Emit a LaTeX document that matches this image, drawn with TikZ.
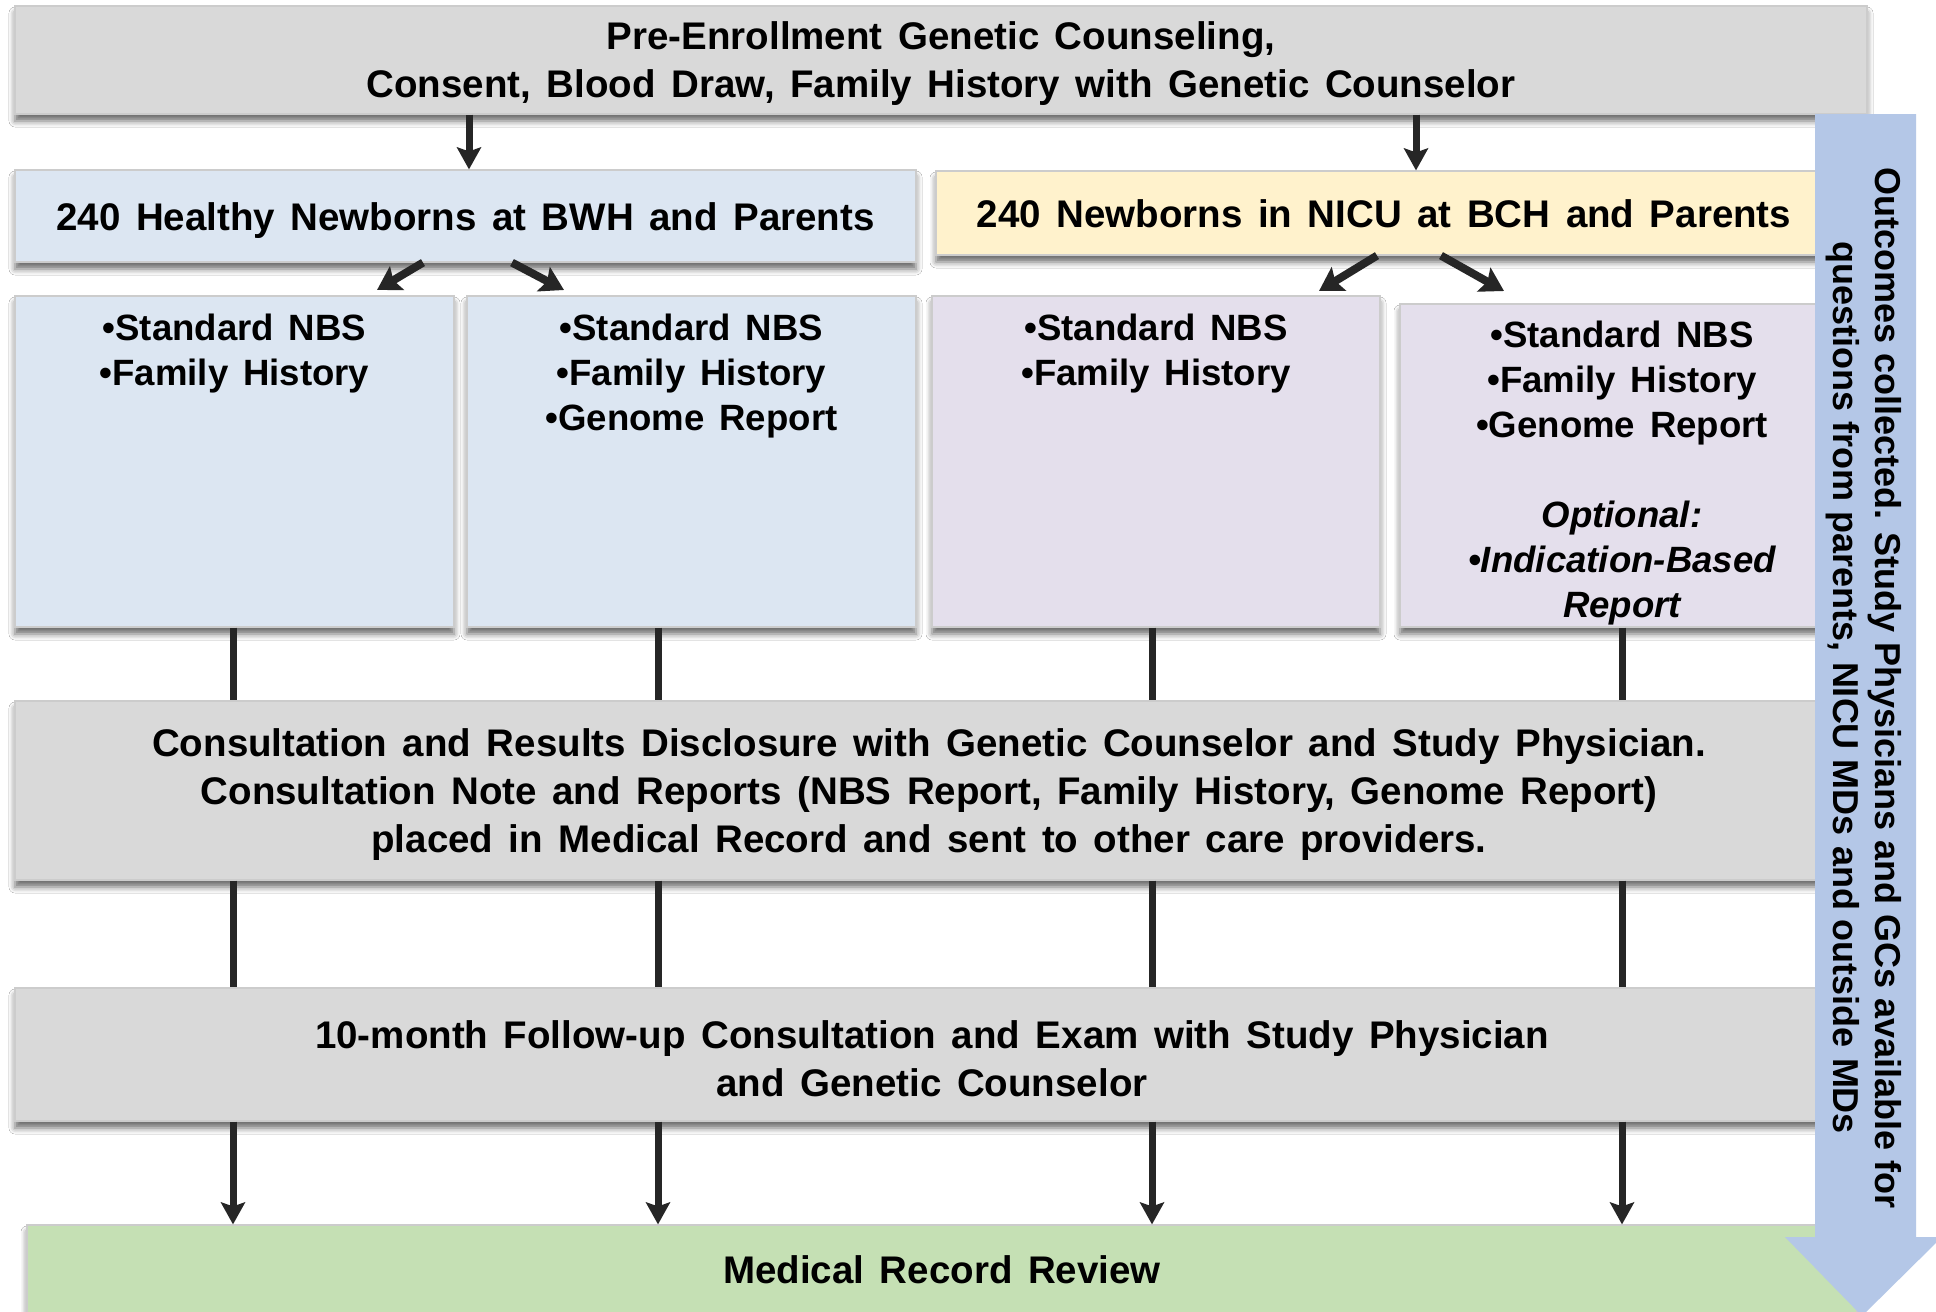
\documentclass[tikz,border=0pt]{standalone}
\usepackage{fontspec}
\setmainfont{Liberation Sans}[WordSpace=1.45]
\newfontfamily\arrowfont{Liberation Sans}
\usetikzlibrary{arrows.meta,shadows.blur}

\definecolor{boxgray}{HTML}{D9D9D9}
\definecolor{paleblue}{HTML}{DCE6F2}
\definecolor{paleyellow}{HTML}{FFF2CC}
\definecolor{palelilac}{HTML}{E4DFEC}
\definecolor{palegreen}{HTML}{C5E0B4}
\definecolor{sideblue}{HTML}{B4C7E7}
\definecolor{ink}{HTML}{262626}

\begin{document}
\begin{tikzpicture}[x=1pt,y=-1pt,
  box/.style={draw=black!20, line width=1.2pt, inner sep=0pt,
    blur shadow={shadow xshift=0pt, shadow yshift=-7pt,
      shadow blur radius=6pt, shadow opacity=58}},
  bigtxt/.style={font=\fontsize{38.5}{48}\selectfont\bfseries, align=center,
    inner sep=0pt},
  subtxt/.style={font=\fontsize{36.6}{45}\selectfont\bfseries, align=center,
    inner sep=0pt, anchor=north},
  link/.style={draw=ink, line width=7pt},
  arr/.style={draw=ink, line width=7pt,
    -{Stealth[width=24pt,length=22pt,inset=4pt]}},
  slant/.style={draw=ink, line width=8pt,
    -{Stealth[width=27pt,length=23pt,inset=4pt]}},
]
\useasboundingbox (0,0) rectangle (1936,1312);
\clip (0,0) rectangle (1936,1312);
\fill[white] (0,0) rectangle (1936,1312);

% enrollment
\node[box, fill=boxgray, minimum width=1852pt, minimum height=108pt]
  (top) at (941,60) {};
\node[bigtxt] (topt) at ([yshift=-3.5pt]top.center)
  {Pre-Enrollment Genetic Counseling,\\Consent, Blood Draw, Family History with Genetic Counselor};

% cohorts
\node[box, fill=paleblue, minimum width=901pt, minimum height=92pt]
  (hl) at (465.5,216) {};
\node[bigtxt] (hlt) at ([yshift=-5pt]hl.center) {240 Healthy Newborns at BWH and Parents};
\node[box, fill=paleyellow, minimum width=896pt, minimum height=84pt]
  (hr) at (1384,213) {};
\node[bigtxt] (hrt) at ([yshift=-1pt]hr.center) {240 Newborns in NICU at BCH and Parents};

% study arms
\node[box, fill=paleblue, minimum width=439pt, minimum height=331pt] (sa) at (234.5,461.5) {};
\node[box, fill=paleblue, minimum width=449pt, minimum height=331pt] (sb) at (691.5,461.5) {};
\node[box, fill=palelilac, minimum width=448pt, minimum height=331pt] (sc) at (1156,461.5) {};
\node[box, fill=palelilac, minimum width=444pt, minimum height=323pt] (sd) at (1622,465.5) {};

\node[subtxt] (ta) at ([yshift=-18pt]sa.north) {•Standard NBS\\•Family History};
\node[subtxt] (tb) at ([yshift=-18pt]sb.north) {•Standard NBS\\•Family History\\•Genome Report};
\node[subtxt] (tc) at ([yshift=-18pt]sc.north) {•Standard NBS\\•Family History};
\node[subtxt] (td) at ([yshift=-17pt]sd.north)
  {•Standard NBS\\•Family History\\•Genome Report\\[45pt]
   \itshape Optional:\\\itshape •Indication-Based\\\itshape Report};

% disclosure and follow-up
\node[box, fill=boxgray, minimum width=1828pt, minimum height=179pt]
  (cons) at (929,790.5) {};
\node[bigtxt] (const) at ([yshift=-4pt]cons.center)
  {Consultation and Results Disclosure with Genetic Counselor and Study Physician.\\
   Consultation Note and Reports (NBS Report, Family History, Genome Report)\\
   placed in Medical Record and sent to other care providers.};
\node[box, fill=boxgray, minimum width=1834pt, minimum height=133pt]
  (fol) at (932,1054.5) {};
\node[bigtxt] (folt) at ([yshift=-4pt]fol.center)
  {10-month Follow-up Consultation and Exam with Study Physician\\and Genetic Counselor};
\node[box, fill=palegreen, minimum width=1830pt, minimum height=91pt]
  (mrr) at (942,1270.5) {};
\node[bigtxt] (mrrt) at (942,1269.5) {Medical Record Review};

% enrollment to cohorts
\path ([xshift=3.5pt]hl.north) coordinate (hlin);
\path ([xshift=32pt]hr.north) coordinate (hrin);
\draw[arr] (top.south -| hlin) -- (hlin);
\draw[arr] (top.south -| hrin) -- (hrin);

% cohorts to arms
\coordinate (tipa) at (377,290);
\coordinate (tipb) at (564,290);
\coordinate (tipc) at (1319,291);
\coordinate (tipd) at (1504,291);
\draw[slant] ([xshift=-42.5pt]hl.south) -- (tipa);
\draw[slant] ([xshift=46.5pt]hl.south) -- (tipb);
\draw[slant] ([xshift=-7pt]hr.south) -- (tipc);
\draw[slant] ([xshift=57pt]hr.south) -- (tipd);

% arms down through disclosure, follow-up and review
\path ([xshift=-1.5pt]sa.south) coordinate (pa);
\path ([xshift=-33.5pt]sb.south) coordinate (pb);
\path ([xshift=-4pt]sc.south) coordinate (pc);
\path (sd.south) coordinate (pd);
\foreach \p in {pa,pb,pc,pd}{
  \draw[link] (\p) -- (\p |- cons.north);
  \draw[link] (\p |- cons.south) -- (\p |- fol.north);
  \draw[arr] (\p |- fol.south) -- (\p |- mrr.north);
}

% side arrow: support throughout the study
\fill[sideblue] (1815,114) -- (1916,114) -- (1916,1237) -- (1942,1237)
  -- (1862,1316) -- (1785,1237) -- (1815,1237) -- cycle;
\node[rotate=-90, font=\arrowfont\fontsize{36}{42.5}\selectfont\bfseries,
  align=center, inner sep=0pt] (side) at (1864,688)
  {Outcomes collected. Study Physicians and GCs available for\\
   questions from parents, NICU MDs and outside MDs};
\end{tikzpicture}
\end{document}
